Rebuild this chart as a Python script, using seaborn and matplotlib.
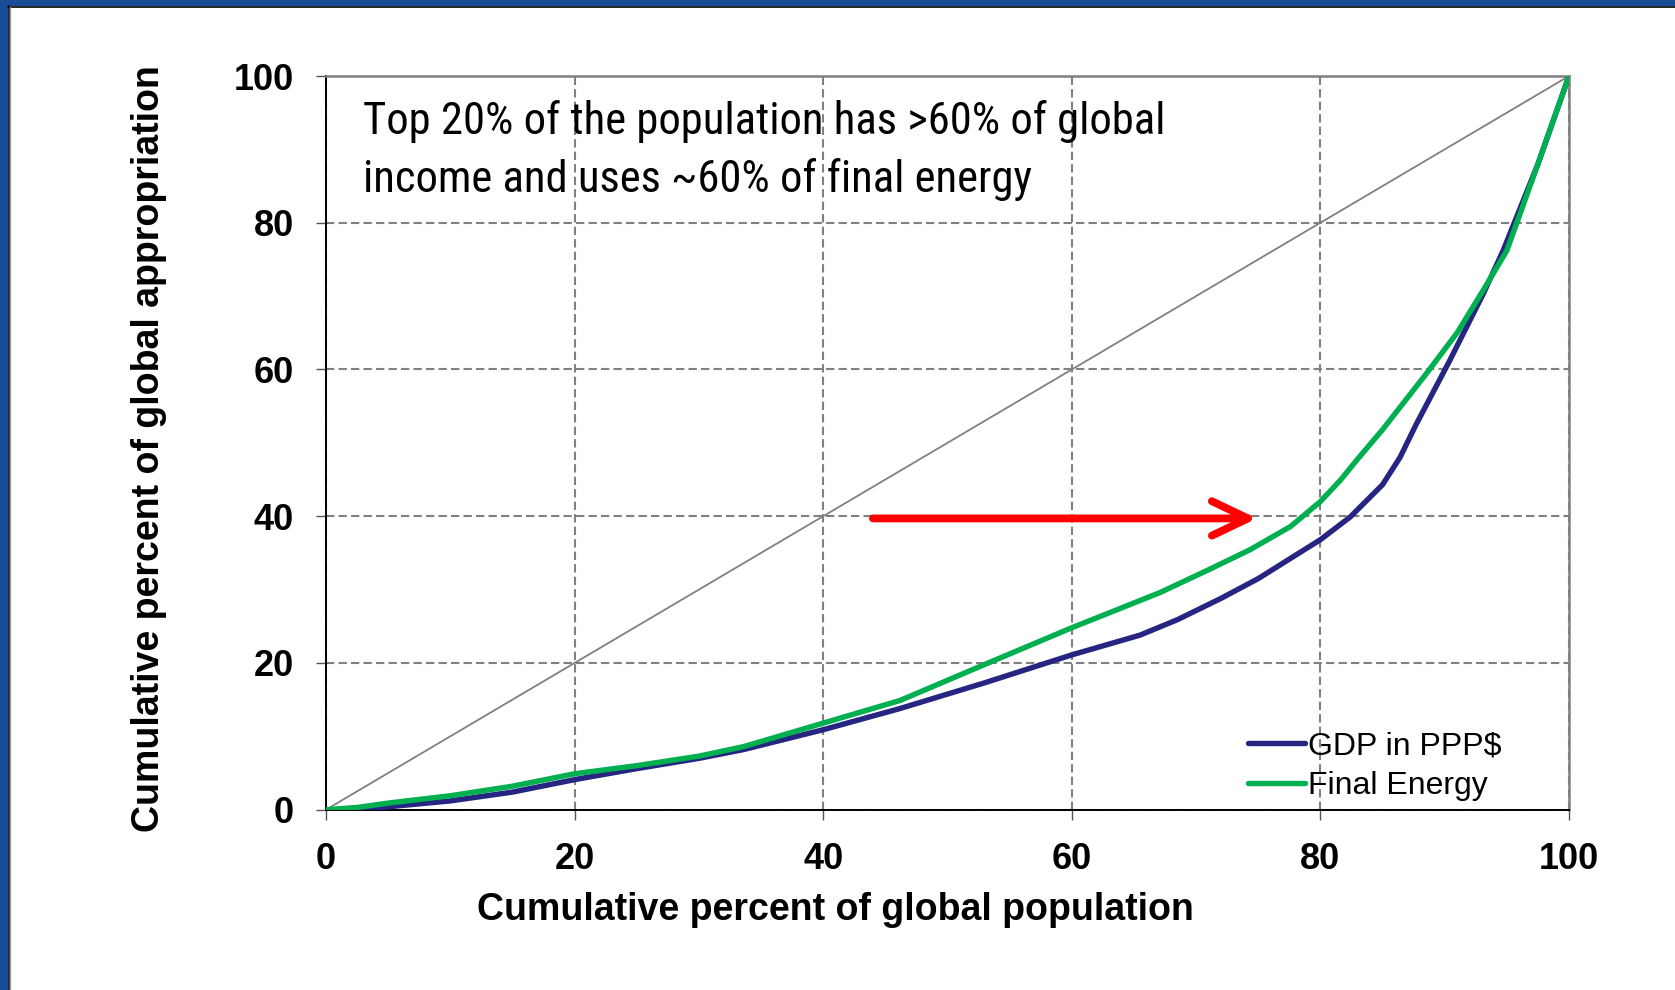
import matplotlib
matplotlib.use("Agg")
import matplotlib.pyplot as plt
from matplotlib.patches import Rectangle
from matplotlib.lines import Line2D
from matplotlib import font_manager
from matplotlib.font_manager import FontProperties
import pandas as pd
import seaborn as sns

# Cumulative share of world population (%) and the matching cumulative share of each quantity (%)
pop_gdp = [0, 2.5, 5, 10, 15, 20, 25, 30, 33.6, 40, 46.2, 53, 60, 65.5, 68.5, 72, 75,
           78.3, 80, 82.4, 85.0, 86.4, 87.7, 90.4, 93.1, 94.7, 97.5, 100]
gdp_share = [0, 0, 0.4, 1.2, 2.4, 4.1, 5.6, 7.0, 8.2, 10.9, 13.8, 17.3, 21.1, 23.8, 25.9, 28.8, 31.5,
             35.0, 36.8, 39.9, 44.3, 48.0, 52.5, 61.2, 70.3, 76.2, 88.0, 100]

pop_energy = [0, 2.5, 5, 10, 15, 20, 25, 30, 33.6, 40, 46.2, 53, 60, 67.1, 71, 74.3,
              77.6, 80, 81.6, 83, 85.0, 88.6, 91, 93.1, 95, 97.5, 100]
energy_share = [0, 0.3, 0.9, 1.9, 3.2, 4.9, 6.0, 7.3, 8.6, 11.8, 14.9, 19.8, 24.8, 29.6, 32.7, 35.4,
                38.6, 42.0, 44.9, 47.8, 51.8, 59.6, 65.0, 70.8, 76.2, 88.0, 100]

series_names = ["GDP in PPP$", "Final Energy"]
series_colors = ["#262682", "#00B050"]
tick_values = [0, 20, 40, 60, 80, 100]

note_lines = ["Top 20% of the population has >60% of global",
              "income and uses ~60% of final energy"]
arrow_start = (44.0, 39.7)
arrow_end = (74.9, 39.7)

sns.set_theme(style="white")
plt.rcParams["font.family"] = ["Liberation Sans", "DejaVu Sans"]
plt.rcParams["text.color"] = "black"
plt.rcParams["axes.labelcolor"] = "black"
plt.rcParams["xtick.color"] = "black"
plt.rcParams["ytick.color"] = "black"


def narrow_font():
    """Pick the narrowest regular sans face that is installed."""
    entries = font_manager.fontManager.ttflist

    def regular(e):
        w = e.weight if isinstance(e.weight, int) else {"normal": 400, "regular": 400,
                                                         "book": 400}.get(str(e.weight), 0)
        return e.style == "normal" and w in (400,)

    wanted = [
        lambda e: e.name == "Liberation Sans Narrow",
        lambda e: e.name == "Arial Narrow",
        lambda e: e.name == "Roboto Condensed",
        lambda e: e.name == "Noto Sans" and e.stretch in ("condensed", "extra-condensed"),
        lambda e: e.name == "Open Sans Condensed",
        lambda e: e.name == "Roboto" and e.stretch in ("condensed", "semi-condensed"),
        lambda e: e.name == "Noto Sans" and e.stretch == "semi-condensed",
        lambda e: e.name == "DejaVu Sans" and e.stretch in ("condensed", "semi-condensed"),
    ]
    for test in wanted:
        for e in entries:
            if test(e) and regular(e):
                return FontProperties(fname=e.fname)
    return FontProperties(family="Liberation Sans")


df = pd.concat([
    pd.DataFrame({"population": pop_gdp, "share": gdp_share, "series": series_names[0]}),
    pd.DataFrame({"population": pop_energy, "share": energy_share, "series": series_names[1]}),
], ignore_index=True)

W, H = 1675, 990
fig = plt.figure(figsize=(W / 100, H / 100), dpi=100)
fig.patch.set_facecolor("white")

# slide frame: blue bands along the top and left edges
blue = "#184C96"
fig.patches.append(Rectangle((0, 1 - 6 / H), 1, 6 / H, transform=fig.transFigure,
                             facecolor=blue, edgecolor="none", zorder=0))
fig.patches.append(Rectangle((0, 0), 8 / W, 1, transform=fig.transFigure,
                             facecolor=blue, edgecolor="none", zorder=0))
fig.add_artist(Line2D([8 / W, 1], [1 - 6.5 / H, 1 - 6.5 / H], transform=fig.transFigure,
                      color="black", lw=1.2))
fig.add_artist(Line2D([8.5 / W, 8.5 / W], [0, 1 - 6 / H], transform=fig.transFigure,
                      color="black", lw=1.2))
fig.add_artist(Line2D([9.8 / W, 9.8 / W], [0, 1 - 7 / H], transform=fig.transFigure,
                      color="#A0A0A0", lw=1.0))

x0, x1 = 326, 1569
y_top, y_bot = 76, 809.7
ax = fig.add_axes([x0 / W, 1 - y_bot / H, (x1 - x0) / W, (y_bot - y_top) / H])
ax.set_facecolor("white")

# line of perfect equality
ax.plot([0, 100], [0, 100], color="#808080", lw=1.3, zorder=2)

sns.lineplot(data=df, x="population", y="share", hue="series",
             hue_order=series_names, palette=series_colors,
             sort=False, estimator=None, lw=3.9, ax=ax, legend=False, zorder=4)

ax.set_xlim(0, 100)
ax.set_ylim(0, 100)
ax.set_xticks(tick_values)
ax.set_yticks(tick_values)
ax.set_xticklabels([str(v) for v in tick_values], fontsize=26, fontweight="bold")
ax.set_yticklabels([str(v) for v in tick_values], fontsize=26, fontweight="bold")
ax.tick_params(axis="both", which="major", direction="out", length=7.5, width=1.0,
               color="#555555", pad=15.5, bottom=True, left=True)

ax.grid(True, color="#808080", linestyle=(0, (4, 2)), lw=1.5, zorder=1)

for side in ("left", "bottom"):
    ax.spines[side].set_color("black")
    ax.spines[side].set_linewidth(1.4)
ax.spines["top"].set_color("#808080")
ax.spines["top"].set_linewidth(1.8)
ax.spines["top"].set_linestyle((0, (4, 1)))
ax.spines["right"].set_color("#808080")
ax.spines["right"].set_linewidth(1.8)

ax.set_xlabel("Cumulative percent of global population", fontsize=27, fontweight="bold")
ax.set_ylabel("Cumulative percent of global appropriation", fontsize=27, fontweight="bold")
ax.xaxis.set_label_coords((835 - x0) / (x1 - x0), (y_bot - 910) / (y_bot - y_top))
ax.xaxis.label.set_verticalalignment("center")
ax.yaxis.set_label_coords((149.5 - x0) / (x1 - x0), (y_bot - 448.7) / (y_bot - y_top))
ax.yaxis.label.set_verticalalignment("center")

# two-line note, sized so the first line spans its column of the plot
note_font = narrow_font()
note_font.set_size(32)
notes = [
    ax.text(2.98, 92.06, note_lines[0], fontproperties=note_font.copy(),
            va="baseline", ha="left", zorder=5),
    ax.text(2.98, 84.2, note_lines[1], fontproperties=note_font.copy(),
            va="baseline", ha="left", zorder=5),
]
fig.canvas.draw()
width_px = notes[0].get_window_extent().width
size = min(34.0, 32 * 804.0 / width_px)
for t in notes:
    t.set_fontsize(size)

ax.annotate("", xy=arrow_end, xytext=arrow_start,
            arrowprops=dict(arrowstyle="->,head_length=1.3,head_width=0.62",
                            color="#FF0000", lw=5.6, mutation_scale=20,
                            shrinkA=0, shrinkB=0, capstyle="round", joinstyle="round"),
            zorder=6)

handles = [Line2D([], [], color=c, lw=3.9, solid_capstyle="round") for c in series_colors]
ax.legend(handles, series_names, loc="lower left", bbox_to_anchor=(0.7414, 0.012),
          frameon=False, fontsize=23, handlelength=1.8, handletextpad=0.1,
          labelspacing=0.3, borderpad=0, borderaxespad=0)

fig.savefig("out.png", dpi=100, facecolor="white")
